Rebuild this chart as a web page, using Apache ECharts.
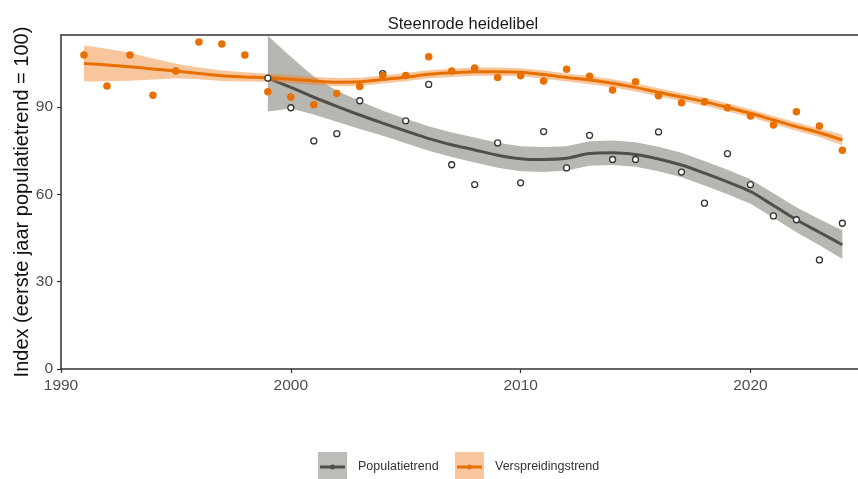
<!DOCTYPE html>
<html>
<head>
<meta charset="utf-8">
<script src="https://cdn.jsdelivr.net/npm/echarts@6/dist/echarts.min.js"></script>
<style>
  html, body { margin: 0; padding: 0; background: #fff; }
  #chart { width: 858px; height: 479px; }
</style>
</head>
<body>
<div id="chart"></div>
<script>
// * Steenrode heidelibel - populatietrend en verspreidingstrend
const chart = echarts.init(document.getElementById('chart'))

const xTicks = [1990, 2000, 2010, 2020]
const yTicks = [0, 30, 60, 90]

// populatietrend (1999 - 2024)
const popYears = [1999, 2000, 2001, 2002, 2003, 2004, 2005, 2006, 2007, 2008, 2009, 2010, 2011,
  2012, 2013, 2014, 2015, 2016, 2017, 2018, 2019, 2020, 2021, 2022, 2023, 2024]
const popIndex = [100, 89.8, 78.4, 80.9, 92.2, 101.5, 85.3, 97.8, 70.2, 63.4, 77.7, 64.0, 81.6,
  69.1, 80.3, 72.0, 72.0, 81.5, 67.7, 57.0, 74.0, 63.4, 52.6, 51.3, 37.5, 50.1]
const popTrend = [100, 96.8, 93.4, 90.3, 87.3, 84.5, 81.8, 79.2, 77.1, 75.3, 73.5, 72.3, 72.0,
  72.4, 74.1, 74.3, 73.7, 72.2, 70.1, 67.3, 64.3, 61.0, 56.2, 51.3, 47.0, 42.7]
const popLower = [88.5, 89.5, 87.5, 85.0, 82.5, 80.2, 77.6, 75.0, 72.9, 71.0, 69.2, 68.0, 67.7,
  68.2, 69.9, 70.1, 69.5, 68.0, 65.9, 63.1, 60.1, 56.8, 52.0, 47.0, 42.5, 37.8]
const popUpper = [114.5, 107.3, 100.5, 95.6, 92.1, 88.8, 86.0, 83.4, 81.3, 79.6, 77.8, 76.6, 76.3,
  76.6, 78.3, 78.5, 77.9, 76.4, 74.3, 71.5, 68.5, 65.2, 60.4, 55.6, 51.5, 47.7]

// verspreidingstrend (1991 - 2024)
const versYears = [1991, 1992, 1993, 1994, 1995, 1996, 1997, 1998, 1999, 2000, 2001, 2002, 2003,
  2004, 2005, 2006, 2007, 2008, 2009, 2010, 2011, 2012, 2013, 2014, 2015, 2016, 2017, 2018,
  2019, 2020, 2021, 2022, 2023, 2024]
const versIndex = [107.9, 97.3, 107.9, 94.1, 102.4, 112.4, 111.7, 107.9, 95.3, 93.5, 90.8, 94.7, 97.1,
  100.9, 100.9, 107.3, 102.4, 103.5, 100.2, 100.8, 99.0, 103.0, 100.6, 95.9, 98.7, 93.9, 91.5, 91.9,
  89.8, 87.0, 83.9, 88.4, 83.5, 75.2]
const versTrend = [105.0, 104.5, 103.9, 103.1, 102.4, 101.6, 100.8, 100.4, 100.1, 99.6, 99.0, 98.6, 98.7,
  99.5, 100.3, 101.3, 101.8, 102.2, 102.2, 102.0, 101.2, 100.2, 99.3, 98.2, 96.8, 95.1, 93.5, 91.9,
  89.9, 87.9, 85.6, 83.3, 81.2, 78.7]
const versLower = [98.8, 98.9, 99.1, 99.5, 99.9, 99.6, 99.0, 98.8, 98.7, 98.2, 97.6, 97.2, 97.3,
  98.1, 98.9, 99.9, 100.4, 100.8, 100.8, 100.6, 99.8, 98.8, 97.9, 96.8, 95.4, 93.7, 92.1, 90.5,
  88.5, 86.5, 84.2, 81.9, 79.7, 76.9]
const versUpper = [111.2, 110.1, 108.7, 106.7, 104.9, 103.6, 102.6, 102.0, 101.5, 101.0, 100.4, 100.0, 100.1,
  100.9, 101.7, 102.7, 103.2, 103.6, 103.6, 103.4, 102.6, 101.6, 100.7, 99.6, 98.2, 96.5, 94.9, 93.3,
  91.3, 89.3, 87.0, 84.7, 82.7, 80.5]

const greyLine = '#524f4a'
const greyBand = 'rgba(95, 95, 85, 0.45)'
const orangeLine = '#e87000'
const orangeBand = 'rgba(240, 128, 35, 0.45)'
const font = '"Liberation Sans", Arial, sans-serif'

const zip = (xs, ...cols) => xs.map((x, i) => [x, ...cols.map(c => c[i])])

// ? ribbon: one polygon through lower and upper bounds
function ribbon(fill) {
  return function (params, api) {
    if (params.dataIndexInside !== 0) return
    const n = params.dataInsideLength
    const top = []
    const bottom = []
    for (let i = 0; i < n; i++) {
      const x = api.value(0, i)
      bottom.push(api.coord([x, api.value(1, i)]))
      top.push(api.coord([x, api.value(2, i)]))
    }
    return {
      type: 'polygon',
      shape: { points: bottom.concat(top.reverse()) },
      style: { fill: fill }
    }
  }
}

const axisCommon = {
  axisLine: { show: true, lineStyle: { color: '#333', width: 1.5 } },
  axisTick: { show: true, length: 4, lineStyle: { color: '#333', width: 1.2 } },
  splitLine: { show: false },
  axisLabel: {
    color: '#4d4d4d',
    fontSize: 15.5,
    fontFamily: font,
    showMaxLabel: false,
    formatter: v => String(v)
  }
}

const option = {
  animation: false,
  backgroundColor: '#fff',
  title: {
    text: 'Steenrode heidelibel',
    left: 458,
    textAlign: 'center',
    top: 11,
    textStyle: { fontSize: 16.5, fontWeight: 'normal', color: '#1a1a1a', fontFamily: font }
  },
  grid: { left: 61, right: 0, top: 35, bottom: 110, outerBoundsMode: 'none', containLabel: false },
  xAxis: [
    Object.assign({}, axisCommon, {
      type: 'value',
      min: 1990,
      max: 2024.68,
      interval: 10,
      axisLabel: Object.assign({}, axisCommon.axisLabel, { margin: 9 })
    }),
    {
      type: 'value',
      position: 'top',
      min: 1990,
      max: 2024.68,
      axisLine: { show: true, lineStyle: { color: '#333', width: 1.5 } },
      axisTick: { show: false },
      axisLabel: { show: false },
      splitLine: { show: false }
    }
  ],
  yAxis: Object.assign({}, axisCommon, {
    type: 'value',
    min: 0,
    max: 114.8,
    interval: 30,
    name: 'Index (eerste jaar populatietrend = 100)',
    nameLocation: 'middle',
    nameGap: 29,
    nameMoveOverlap: false,
    nameTextStyle: { fontSize: 20, color: '#111', fontFamily: font },
    axisLabel: Object.assign({}, axisCommon.axisLabel, { margin: 8 })
  }),
  series: [
    {
      name: 'Populatietrend band',
      type: 'custom',
      clip: true,
      renderItem: ribbon(greyBand),
      data: zip(popYears, popLower, popUpper),
      z: 1
    },
    {
      name: 'Populatietrend',
      type: 'line',
      data: zip(popYears, popTrend),
      smooth: 0.3,
      showSymbol: false,
      lineStyle: { color: greyLine, width: 3 },
      z: 2
    },
    {
      name: 'Verspreidingstrend band',
      type: 'custom',
      clip: true,
      renderItem: ribbon(orangeBand),
      data: zip(versYears, versLower, versUpper),
      z: 3
    },
    {
      name: 'Verspreidingstrend',
      type: 'line',
      data: zip(versYears, versTrend),
      smooth: 0.3,
      showSymbol: false,
      lineStyle: { color: orangeLine, width: 3 },
      z: 4
    },
    {
      name: 'Populatie index',
      type: 'scatter',
      data: zip(popYears, popIndex),
      symbol: 'circle',
      symbolSize: 6,
      itemStyle: { color: '#fff', borderColor: '#333', borderWidth: 1.3, opacity: 1 },
      z: 5
    },
    {
      name: 'Verspreiding index',
      type: 'scatter',
      data: zip(versYears, versIndex),
      symbolSize: 7.5,
      itemStyle: { color: orangeLine, opacity: 1 },
      z: 6
    }
  ],
  // legend keys drawn as in the original (band + line + point)
  graphic: [
    { type: 'rect', left: 318, top: 452, shape: { width: 29, height: 27 }, style: { fill: '#bdbcb8' } },
    { type: 'line', shape: { x1: 320, y1: 467, x2: 345, y2: 467 }, style: { stroke: greyLine, lineWidth: 3 } },
    { type: 'circle', shape: { cx: 332.5, cy: 467, r: 2.5 }, style: { fill: greyLine } },
    { type: 'text', left: 358, top: 460, style: { text: 'Populatietrend', fontSize: 12.5, fontFamily: font, fill: '#333' } },
    { type: 'rect', left: 455, top: 452, shape: { width: 29, height: 27 }, style: { fill: '#f8c79e' } },
    { type: 'line', shape: { x1: 457, y1: 467, x2: 482, y2: 467 }, style: { stroke: orangeLine, lineWidth: 3 } },
    { type: 'circle', shape: { cx: 469.5, cy: 467, r: 2.5 }, style: { fill: orangeLine } },
    { type: 'text', left: 495, top: 460, style: { text: 'Verspreidingstrend', fontSize: 12.5, fontFamily: font, fill: '#333' } }
  ]
}

chart.setOption(option)
</script>
</body>
</html>
